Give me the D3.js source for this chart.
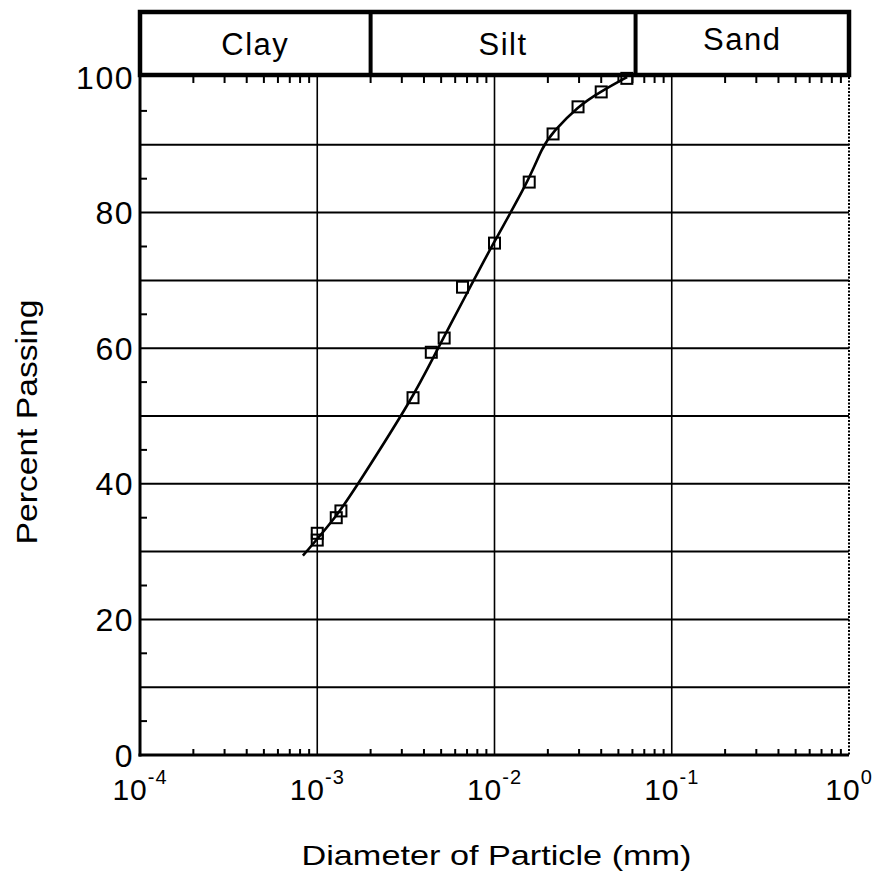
<!DOCTYPE html>
<html>
<head>
<meta charset="utf-8">
<script src="https://cdn.jsdelivr.net/npm/d3@7"></script>
<style>
    body { margin: 0; background: #fff; }
    text { font-family: "Liberation Sans", Arial, Helvetica, sans-serif; fill: #000; }
</style>
</head>
<body>
<div id="chart"></div>
<script>
// measured sample points (diameter in mm, percent passing)
const diameters = [0.001, 0.001, 0.00128, 0.00136, 0.00347, 0.0044, 0.0052, 0.0066, 0.01, 0.0157, 0.0214, 0.0296, 0.04, 0.0558];
const percents = [32.7, 31.7, 35.0, 36.0, 52.7, 59.4, 61.5, 69.0, 75.5, 84.5, 91.6, 95.6, 97.8, 99.8];

// hand drawn fit curve
const curveDiameters = [0.00083, 0.0013, 0.0017, 0.00347, 0.0047, 0.0073, 0.0095, 0.0157, 0.0185, 0.0214, 0.0296, 0.04, 0.056];
const curvePercents = [29.4, 35.3, 40, 52.7, 59.6, 69, 74.8, 84.8, 89.6, 91.9, 95.7, 97.9, 100];

// soil classes along the top band
const classNames = ["Clay", "Silt", "Sand"];
const classBounds = [0.0001, 0.002, 0.0625, 1];

const yTicks = [0, 20, 40, 60, 80, 100];
const xTickExponents = [-4, -3, -2, -1, 0];

function main() {
    const width = 886;
    const height = 878;
    const margins = { top: 77, right: 37, bottom: 123, left: 140 };
    const plotW = width - margins.left - margins.right;
    const plotH = height - margins.top - margins.bottom;

    const svg = d3.select("#chart")
        .append("svg")
            .attr("width", width)
            .attr("height", height);

    const g = svg.append("g")
        .attr("transform", `translate(${margins.left}, ${margins.top})`);

    const x = d3.scaleLog()
        .domain([1e-4, 1])
        .range([0, plotW]);

    const y = d3.scaleLinear()
        .domain([0, 100])
        .range([plotH, 0]);

    // horizontal grid every 10 %
    g.selectAll(".hgrid")
        .data(d3.range(10, 100, 10))
        .enter().append("line")
            .attr("x1", 0)
            .attr("x2", plotW)
            .attr("y1", d => y(d))
            .attr("y2", d => y(d))
            .attr("stroke", "#000")
            .attr("stroke-width", 2);

    // vertical grid on each decade
    g.selectAll(".vgrid")
        .data([1e-3, 1e-2, 1e-1])
        .enter().append("line")
            .attr("x1", d => x(d))
            .attr("x2", d => x(d))
            .attr("y1", 0)
            .attr("y2", plotH)
            .attr("stroke", "#000")
            .attr("stroke-width", 1.6);

    // minor log ticks, top and bottom, pointing inwards
    const minor = [];
    for (let e = -4; e < 0; e++) {
        for (let m = 2; m <= 9; m++) minor.push(m * Math.pow(10, e));
    }
    g.selectAll(".tickB")
        .data(minor)
        .enter().append("line")
            .attr("x1", d => x(d)).attr("x2", d => x(d))
            .attr("y1", plotH).attr("y2", plotH - 6)
            .attr("stroke", "#000").attr("stroke-width", 2);
    g.selectAll(".tickT")
        .data(minor)
        .enter().append("line")
            .attr("x1", d => x(d)).attr("x2", d => x(d))
            .attr("y1", 0).attr("y2", 6)
            .attr("stroke", "#000").attr("stroke-width", 2);

    // minor ticks on left axis every 5 %
    g.selectAll(".tickL")
        .data(d3.range(5, 100, 10))
        .enter().append("line")
            .attr("x1", 0).attr("x2", 7)
            .attr("y1", d => y(d)).attr("y2", d => y(d))
            .attr("stroke", "#000").attr("stroke-width", 2);

    // frame: right side dotted, left + bottom solid
    g.append("line")
        .attr("x1", plotW).attr("x2", plotW)
        .attr("y1", 0).attr("y2", plotH)
        .attr("stroke", "#000").attr("stroke-width", 2)
        .attr("stroke-dasharray", "2,1.5");
    g.append("line")
        .attr("x1", 0).attr("x2", 0)
        .attr("y1", -2).attr("y2", plotH + 1.5)
        .attr("stroke", "#000").attr("stroke-width", 3);
    g.append("line")
        .attr("x1", -1.5).attr("x2", plotW)
        .attr("y1", plotH).attr("y2", plotH)
        .attr("stroke", "#000").attr("stroke-width", 3);

    // soil class band on top
    const bandTop = -65;
    const band = g.append("g");
    band.append("rect")
        .attr("x", 0)
        .attr("y", bandTop)
        .attr("width", plotW)
        .attr("height", -bandTop - 2)
        .attr("fill", "none")
        .attr("stroke", "#000")
        .attr("stroke-width", 4.5);
    band.selectAll(".div")
        .data(classBounds.slice(1, -1))
        .enter().append("line")
            .attr("x1", d => x(d)).attr("x2", d => x(d))
            .attr("y1", bandTop).attr("y2", -2)
            .attr("stroke", "#000")
            .attr("stroke-width", 4);
    band.selectAll(".cls")
        .data(classNames)
        .enter().append("text")
            .attr("x", (d, i) => (x(classBounds[i]) + x(classBounds[i + 1])) / 2)
            .attr("y", (d, i) => i == 2 ? -27 : -22)
            .attr("text-anchor", "middle")
            .attr("font-size", "31px")
            .attr("letter-spacing", "1.5px")
            .text(d => d);

    // y labels
    g.selectAll(".ylab")
        .data(yTicks)
        .enter().append("text")
            .attr("x", -6)
            .attr("y", d => y(d))
            .attr("dy", "0.36em")
            .attr("text-anchor", "end")
            .attr("font-size", "32px")
            .attr("letter-spacing", "1.5px")
            .text(d => d);

    // x labels as 10^n
    const xl = g.selectAll(".xlab")
        .data(xTickExponents)
        .enter().append("text")
            .attr("x", d => x(Math.pow(10, d)))
            .attr("y", plotH + 45)
            .attr("text-anchor", "middle")
            .attr("font-size", "30px")
            .attr("letter-spacing", "1px");
    xl.append("tspan").text("10");
    xl.append("tspan")
        .attr("dy", "-16px")
        .attr("font-size", "20px")
        .text(d => d);

    // axis titles
    g.append("text")
        .attr("x", plotW / 2 + 2)
        .attr("y", plotH + 110)
        .attr("text-anchor", "middle")
        .attr("font-size", "28px")
        .attr("textLength", 390)
        .attr("lengthAdjust", "spacingAndGlyphs")
        .text("Diameter of Particle (mm)");

    g.append("text")
        .attr("transform", `translate(${-103}, ${plotH / 2 + 6}) rotate(-90)`)
        .attr("text-anchor", "middle")
        .attr("font-size", "29px")
        .attr("textLength", 245)
        .attr("lengthAdjust", "spacingAndGlyphs")
        .text("Percent Passing");

    // fitted curve, smoothed through the control points
    const curve = curveDiameters.map((d, i) => [d, curvePercents[i]]);
    g.append("path")
        .datum(curve)
        .attr("fill", "none")
        .attr("stroke", "#000")
        .attr("stroke-width", 2.6)
        .attr("d", d3.line()
            .x(d => x(d[0]))
            .y(d => y(d[1]))
            .curve(d3.curveBasis));

    // sample squares
    const pts = diameters.map((d, i) => [d, percents[i]]);
    const s = 11;
    g.selectAll(".pt")
        .data(pts)
        .enter().append("rect")
            .attr("x", d => x(d[0]) - s / 2)
            .attr("y", d => y(d[1]) - s / 2)
            .attr("width", s)
            .attr("height", s)
            .attr("fill", "none")
            .attr("stroke", "#000")
            .attr("stroke-width", 2);
}

main();
</script>
</body>
</html>
